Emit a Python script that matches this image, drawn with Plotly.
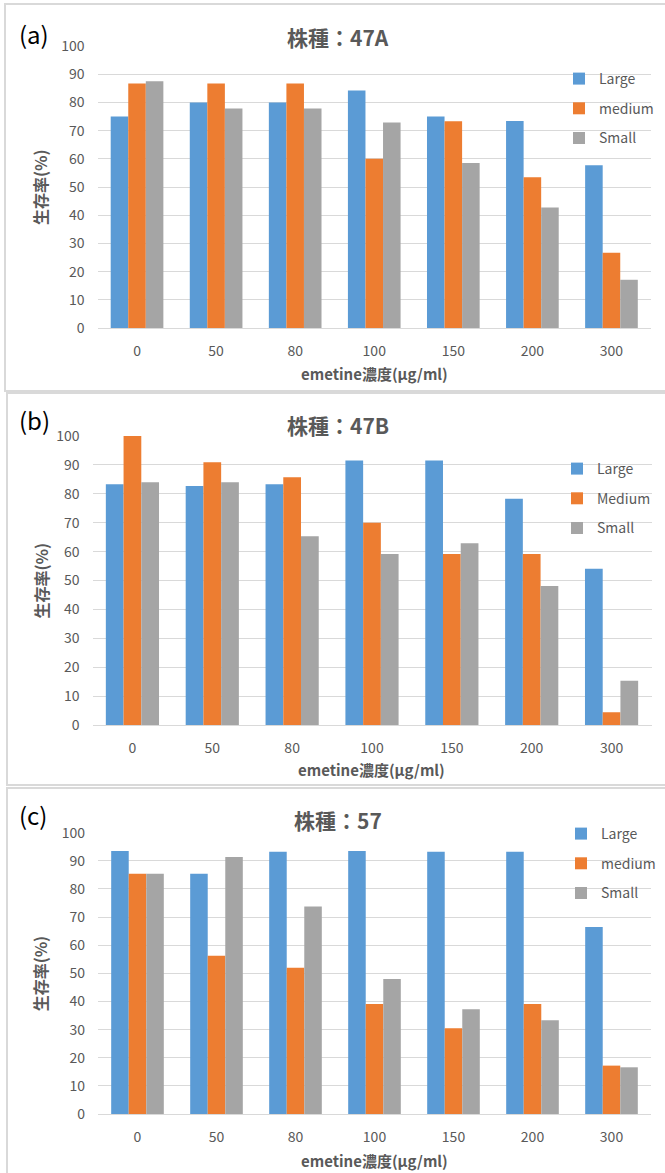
import plotly.graph_objects as go

# emetine concentrations (µg/ml)
doses = ["0", "50", "80", "100", "150", "200", "300"]

# survival rate (%) by colony size, strain 47A
a_large = [75.0, 80.0, 80.0, 84.2, 75.0, 73.4, 57.7]
a_medium = [86.7, 86.7, 86.7, 60.0, 73.3, 53.5, 26.7]
a_small = [87.5, 77.8, 77.8, 72.9, 58.5, 42.7, 17.1]

# strain 47B
b_large = [83.3, 82.7, 83.3, 91.5, 91.5, 78.3, 54.1]
b_medium = [100.0, 90.9, 85.7, 70.0, 59.2, 59.2, 4.4]
b_small = [84.0, 84.0, 65.3, 59.2, 62.9, 48.1, 15.3]

# strain 57
c_large = [93.5, 85.4, 93.2, 93.5, 93.2, 93.2, 66.5]
c_medium = [85.4, 56.3, 52.0, 39.1, 30.5, 39.1, 17.2]
c_small = [85.4, 91.4, 73.8, 48.0, 37.2, 33.3, 16.6]

W, H = 665, 1173
BLUE, ORANGE, GRAY = "#5B9BD5", "#ED7D31", "#A5A5A5"
TXT = "#595959"
FONT = "Noto Sans CJK JP"


def px(x):
    return x / W


def py(y):
    return 1 - y / H


panels = [
    dict(tag="(a)", title="株種：47A", names=["Large", "medium", "Small"],
         vals=[a_large, a_medium, a_small],
         x=(97.5, 651), y=(46, 328), box=(5, 4, 667, 391),
         leg=(559, 63), tag_y=33, title_y=37, xt_y=373),
    dict(tag="(b)", title="株種：47B", names=["Large", "Medium", "Small"],
         vals=[b_large, b_medium, b_small],
         x=(92.5, 651.5), y=(436, 725), box=(7, 393, 667, 785),
         leg=(557, 453), tag_y=420, title_y=425, xt_y=769),
    dict(tag="(c)", title="株種：57", names=["Large", "medium", "Small"],
         vals=[c_large, c_medium, c_small],
         x=(98, 651), y=(832.7, 1114), box=(7, 788, 667, 1176),
         leg=(561, 818), tag_y=814, title_y=820, xt_y=1160),
]

fig = go.Figure()
shapes, annotations = [], []
layout = {}

for i, p in enumerate(panels, start=1):
    xa = "x" if i == 1 else f"x{i}"
    ya = "y" if i == 1 else f"y{i}"
    leg = "legend" if i == 1 else f"legend{i}"
    for name, vals, col in zip(p["names"], p["vals"], [BLUE, ORANGE, GRAY]):
        fig.add_trace(go.Bar(
            x=doses, y=vals, name=name, marker=dict(color=col, line_width=0),
            xaxis=xa, yaxis=ya, legend=leg, legendgroup=f"{i}-{name}",
            offsetgroup=name.lower(),
        ))

    xkey = "xaxis" if i == 1 else f"xaxis{i}"
    ykey = "yaxis" if i == 1 else f"yaxis{i}"
    layout[xkey] = dict(
        domain=[px(p["x"][0]), px(p["x"][1])], anchor=ya, type="category",
        showgrid=False, showline=True, linecolor="#D9D9D9", linewidth=1,
        ticks="", tickfont=dict(family=FONT, size=14, color=TXT),
        ticklabelstandoff=10, fixedrange=True, automargin=False,
    )
    layout[ykey] = dict(
        domain=[py(p["y"][1]), py(p["y"][0])], anchor=xa, range=[0, 100],
        dtick=10, showgrid=True, gridcolor="#D9D9D9", gridwidth=1,
        zeroline=False, showline=False, ticks="",
        tickfont=dict(family=FONT, size=14, color=TXT),
        ticklabelstandoff=12, fixedrange=True, automargin=False,
    )
    layout[leg] = dict(
        x=px(p["leg"][0]), y=py(p["leg"][1]), xanchor="left", yanchor="top",
        bgcolor="rgba(0,0,0,0)", font=dict(family=FONT, size=14, color=TXT),
        tracegroupgap=8.5, itemwidth=30, traceorder="grouped",
    )

    x0, y0, x1, y1 = p["box"]
    shapes.append(dict(type="rect", xref="paper", yref="paper",
                       x0=px(x0), x1=px(x1), y0=py(y1), y1=py(y0),
                       line=dict(color="#D9D9D9", width=2), layer="below"))

    cx = (p["x"][0] + p["x"][1]) / 2
    cy = (p["y"][0] + p["y"][1]) / 2
    common = dict(xref="paper", yref="paper", showarrow=False,
                  yanchor="middle")
    annotations += [
        dict(text=p["tag"], x=px(17), y=py(p["tag_y"]), xanchor="left",
             font=dict(family=FONT, size=24, color="#000000"), **common),
        dict(text=f"<b>{p['title']}</b>", x=px(338), y=py(p["title_y"]),
             xanchor="center", font=dict(family=FONT, size=21, color=TXT),
             **common),
        dict(text="<b>emetine濃度(μg/ml)</b>", x=px(cx), y=py(p["xt_y"]),
             xanchor="center", font=dict(family=FONT, size=15, color=TXT),
             **common),
        dict(text="<b>生存率(%)</b>", x=px(40), y=py(cy), textangle=-90,
             xanchor="center", font=dict(family=FONT, size=16, color=TXT),
             **common),
    ]

fig.update_layout(
    width=W, height=H, margin=dict(l=0, r=0, t=0, b=0, autoexpand=False),
    paper_bgcolor="white", plot_bgcolor="white",
    barmode="group", bargap=0.334, bargroupgap=0,
    shapes=shapes, annotations=annotations, showlegend=True,
    **layout,
)

fig.write_html("out.html")
